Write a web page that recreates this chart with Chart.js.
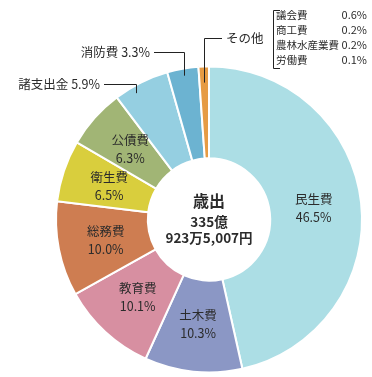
<!DOCTYPE html>
<html lang="ja">
<head>
<meta charset="utf-8">
<title>歳出</title>
<script src="https://cdn.jsdelivr.net/npm/chart.js@4.4.0/dist/chart.umd.min.js"></script>
<style>
  body { margin: 0; background: #fff; }
  canvas { display: block; }
</style>
</head>
<body>
<canvas id="chart" width="372" height="377"></canvas>
<script>
// 歳出の内訳 (%)
const categories = ['民生費', '土木費', '教育費', '総務費', '衛生費', '公債費', '諸支出金', '消防費', 'その他'];
const shares = [46.5, 10.3, 10.1, 10.0, 6.5, 6.3, 5.9, 3.3, 1.1];
const colors = ['#acdee5', '#8b97c5', '#d78fa1', '#ce7d51', '#d9ce3d', '#a1b575', '#95cfe1', '#6cb3d1', '#e69b44'];

// その他の内訳
const otherNames = ['議会費', '商工費', '農林水産業費', '労働費'];
const otherShares = [0.6, 0.2, 0.2, 0.1];

const totalTitle = '歳出';
const totalLines = ['335億', '923万5,007円'];

const FONT = '"Noto Sans CJK JP", "Noto Sans", sans-serif';
const TEXT = '#2b2b2b';

// slices labelled inside the ring
const insideCount = 6;
// slices with leader lines: label position + where the line meets the ring
const callouts = {
  6: { text: '諸支出金 5.9%', tx: 100, ty: 84, frac: 0.33, r: 146 },
  7: { text: '消防費 3.3%', tx: 150, ty: 52, frac: 0.5, r: 146 },
  8: { text: 'その他', tx: 226, ty: 38, frac: 0.5, r: 137, left: true }
};

const labelPlugin = {
  id: 'labels',
  afterDatasetsDraw(chart) {
    const ctx = chart.ctx;
    const arcs = chart.getDatasetMeta(0).data;
    ctx.save();
    ctx.fillStyle = TEXT;
    ctx.textBaseline = 'middle';

    arcs.forEach((arc, i) => {
      const p = arc.getProps(['x', 'y', 'startAngle', 'endAngle', 'innerRadius', 'outerRadius'], true);
      if (i < insideCount) {
        const mid = (p.startAngle + p.endAngle) / 2;
        const r = p.innerRadius + (p.outerRadius - p.innerRadius) * 0.48;
        const x = p.x + Math.cos(mid) * r;
        const y = p.y + Math.sin(mid) * r;
        ctx.textAlign = 'center';
        ctx.font = '12.5px ' + FONT;
        ctx.fillText(categories[i], x, y - 9);
        ctx.fillText(shares[i].toFixed(1) + '%', x, y + 9);
      } else if (callouts[i]) {
        const c = callouts[i];
        const a = p.startAngle + (p.endAngle - p.startAngle) * c.frac;
        const ax = p.x + Math.cos(a) * c.r;
        const ay = p.y + Math.sin(a) * c.r;
        ctx.font = '12.5px ' + FONT;
        ctx.textAlign = c.left ? 'left' : 'right';
        ctx.fillText(c.text, c.tx, c.ty);
        ctx.strokeStyle = '#222';
        ctx.lineWidth = 1;
        ctx.beginPath();
        const lx = c.left ? c.tx - 4 : c.tx + 4;
        ctx.moveTo(lx, c.ty + 0.5);
        ctx.lineTo(Math.round(ax) + 0.5, c.ty + 0.5);
        ctx.lineTo(Math.round(ax) + 0.5, ay);
        ctx.stroke();
      }
    });

    // center text
    const c0 = arcs[0].getProps(['x', 'y'], true);
    ctx.textAlign = 'center';
    ctx.font = 'bold 16px ' + FONT;
    ctx.fillText(totalTitle, c0.x, c0.y - 19);
    ctx.font = 'bold 13.5px ' + FONT;
    ctx.fillText(totalLines[0], c0.x, c0.y + 2);
    ctx.fillText(totalLines[1], c0.x, c0.y + 18);

    // bracket with breakdown of その他
    ctx.strokeStyle = '#222';
    ctx.lineWidth = 1;
    ctx.beginPath();
    ctx.moveTo(280, 10.5);
    ctx.lineTo(273.5, 10.5);
    ctx.lineTo(273.5, 68.5);
    ctx.lineTo(280, 68.5);
    ctx.stroke();
    otherNames.forEach((name, k) => {
      const y = 15 + k * 15;
      ctx.textAlign = 'left';
      ctx.font = '10.5px ' + FONT;
      ctx.fillText(name, 276, y);
      ctx.textAlign = 'right';
      ctx.font = '11px ' + FONT;
      ctx.fillText(otherShares[k].toFixed(1) + '%', 367, y);
    });
    ctx.restore();
  }
};

new Chart(document.getElementById('chart'), {
  type: 'doughnut',
  data: {
    labels: categories,
    datasets: [{
      data: shares,
      backgroundColor: colors,
      borderColor: '#ffffff',
      borderWidth: 2
    }]
  },
  options: {
    responsive: false,
    animation: false,
    cutout: '40%',
    layout: { padding: { left: 55, right: 9, top: 65.5, bottom: 3.5 } },
    plugins: {
      legend: { display: false },
      tooltip: { enabled: false }
    }
  },
  plugins: [labelPlugin]
});
</script>
</body>
</html>
